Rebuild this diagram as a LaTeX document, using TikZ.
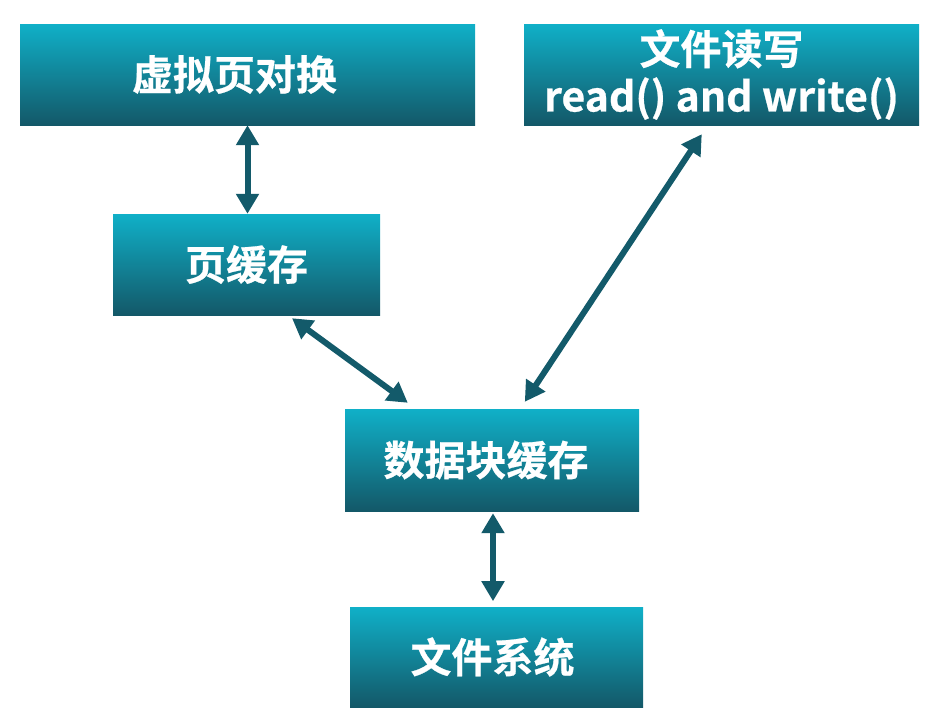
\documentclass[tikz,border=0pt]{standalone}
\usepackage{fontspec}
\newfontfamily\cjk{Noto Sans CJK SC}[BoldFont={* Bold},BoldFeatures={FakeBold=0.6}]
\usetikzlibrary{arrows.meta,calc}
\definecolor{boxtop}{HTML}{10B0C8}
\definecolor{boxbot}{HTML}{135868}
\definecolor{arrowc}{HTML}{135A6A}
\begin{document}
\begin{tikzpicture}[x=1pt,y=-1pt,
  box/.style={rectangle,inner sep=0pt,top color=boxtop,bottom color=boxbot,shading=axis,
    text=white,font=\cjk\bfseries\fontsize{41}{47}\selectfont,align=center},
  link/.style={draw=arrowc,line width=6pt,{Triangle[width=22pt,length=20pt]}-{Triangle[width=22pt,length=20pt]}}]
\useasboundingbox (0,0) rectangle (932,720);
\node[box,minimum width=455pt,minimum height=101pt] (b1) at (247.5,74.5) {\hspace*{-26pt}虚拟页对换};
\node[box,minimum width=395pt,minimum height=101pt] (b2) at (721.5,74.5) {文件读写\\read() and write()};
\node[box,minimum width=267pt,minimum height=101pt] (b3) at (246.5,264.5) {页缓存};
\node[box,minimum width=294pt,minimum height=102pt] (b4) at (492,460) {\hspace*{-12pt}数据块缓存};
\node[box,minimum width=293pt,minimum height=100pt] (b5) at (496.5,657) {\hspace*{-8pt}文件系统};
\draw[link] (b1.south) -- (b1.south |- b3.north);
\draw[link] ($(b3.south)+(45.5,3)$) -- ($(b4.north west)+(63,-6)$);
\draw[link] ($(b2.south west)+(178,9)$) -- ($(b4.north west)+(180,-7)$);
\draw[link] ($(b4.south)+(1,2)$) -- ($(b4.south)+(1,90)$);
\end{tikzpicture}
\end{document}
